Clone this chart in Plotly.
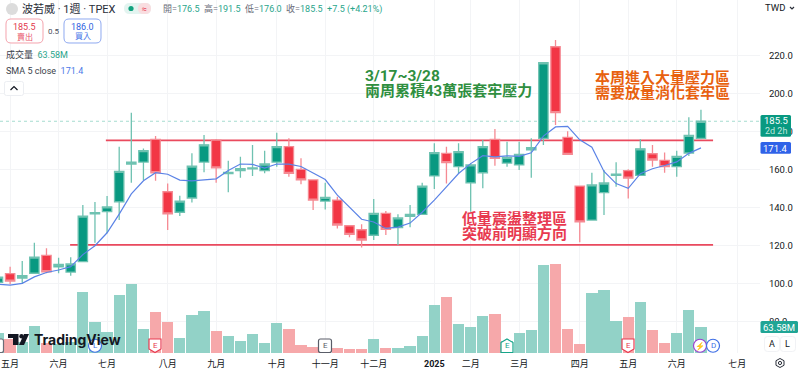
import plotly.graph_objects as go

# ---------- data ----------
weeks = list(range(59))
opens = [100.7,105.3,103,105.5,114.9,108.9,106.1,111.6,136.7,137.9,143.1,163,164,176,148.4,137.6,145.1,164,175.6,157.9,
         159.5,160.5,159.5,164,172.1,160.2,154.6,143.5,144,130.5,128.4,125.5,137,129.5,135.5,136.5,156.7,168.6,161.6,153.1,
         158.4,176,163.5,162.5,170.5,176.5,224.7,177,151.4,133.5,147.9,157,159.5,157,168.4,164.9,161.6,168.8,176.5]
highs = [104.6,108.9,111.9,121.6,118.6,113.7,113.9,141.4,143,146.1,172.1,190,171.2,177.7,152.8,146.3,168.6,178.2,176.1,164.7,
         166.8,173,170,179.5,176.5,166,154.9,153.1,145.8,130.9,131.3,144.6,138.2,136.5,141.4,153.1,173.9,172.1,173.9,163.4,
         175.6,181.4,174.7,174.7,176.5,216.7,228.2,180.3,151.4,158.4,159.8,163.9,160.2,176,173,169,170,187.6,191.5]
lows = [99.8,99.7,99.8,105.5,105.5,105.5,104.2,111.6,121.6,126.5,133.5,153.1,154.6,154.2,128.3,135.6,142.8,158.6,153.1,148.1,
        155.8,156.7,158.1,161.6,156.3,152.3,138.8,139.1,129.1,124.4,119.1,123,125.6,120.4,129.7,136.5,149.8,152.8,158.1,137.9,
        150.2,162.1,161.6,159.8,155.8,173,183.5,168.1,121.8,133.5,136.1,151,144.9,157,161.6,158.4,156.3,167.2,176]
closes = [103.5,101.4,104.2,114,106.3,110.2,110.4,135.6,137.4,140.4,159.1,164,170,158.4,136.7,143.5,161.9,173.1,161,158.6,
          160.5,160.9,163,172.1,158.1,154.6,144,145.4,130.9,126,123,137,128.6,134.6,136.5,151.4,169,163.7,169.5,162.5,
          172.1,166,166.5,168.1,171.6,216.3,190,168.1,132.5,152,153,157.7,155.6,171,165.1,161.6,167,178.1,185.5]
sma5 = [99.7,99.3,100.2,103.6,105.9,107.2,109,115.3,120,126.8,136.6,147.3,154.2,158.4,157.6,154.5,154.1,154.7,155.2,159.6,
        163,162.8,160.8,163,162.9,161.7,158.4,154.8,146.6,140.2,133.9,132.5,129.1,129.8,131.9,137.6,144,151,158,163.2,
        167.4,166.8,167.3,167,168.9,177.7,182.5,182.8,175.7,171.8,159.1,152.7,150.2,157.9,160.5,162.2,164.1,168.6,171.5]
volumes = [48,35,27,66.8,24,22,27,150,77,51,142,169,59.5,101,75,37.5,93.7,102.7,53,41.6,
           30,46.5,24.5,73.4,57.9,20.4,14.7,8,11.4,10.6,10.6,34.2,13,11.4,16.3,41.6,118,137,71.7,64.4,
           91.3,96.2,30,48.9,55.4,214,217.6,58.7,21,146.7,155,79,88,124.7,57,24.5,49.7,104.3,63.58]
volume_up = [1,0,1,1,0,1,1,1,1,1,1,1,1,0,0,1,1,1,0,1,
             1,1,1,1,0,0,0,1,0,0,0,1,0,1,1,1,1,0,1,1,
             1,0,1,1,1,1,0,0,0,1,1,1,0,1,0,0,1,1,1]
month_ticks = [1,5,9,14,18,23,27,31,36,39,43,48,52,56,61]
month_labels = ["五月","六月","七月","八月","九月","十月","十一月","十二月","<b>2025</b>","二月","三月","四月","五月","六月","七月"]
price_ticks = [80,100,120,140,160,180,200,220]
price_labels = ["80.0","100.0","120.0","140.0","160.0","180.0","200.0","220.0"]
resistance = 175.4
support = 120.4
last_price = 185.5

# ---------- geometry ----------
W, H = 800, 369
PW, PH = 760, 353          # plot area in page pixels
STEP, X0 = 12.12, -2.0     # pixels per week, pixel of week 0
PX_PER_PRICE, Y120 = 1.9, 245.7
PX_PER_M = 1 / 2.445

UP, DOWN = "#089981", "#f23645"
UP_W, DOWN_W = "#6fc2b1", "#f58a93"
UP_V, DOWN_V = "#92d2c7", "#f6a8aa"
FONT = "Roboto, 'Noto Sans CJK TC', sans-serif"

def fx(x): return x / PW
def fy(y): return (PH - y) / PH

anns, shapes = [], []
def text(x, y, s, size=11, color="#131722", anchor="left", family=FONT):
    anns.append(dict(x=fx(x), y=fy(y), xref="paper", yref="paper", text=s, showarrow=False,
                     xanchor=anchor, yanchor="middle", align=anchor, borderpad=0, borderwidth=0,
                     font=dict(size=size, color=color, family=family)))
def path(d_pts, fill="rgba(0,0,0,0)", line="rgba(0,0,0,0)", w=1, close=True):
    d = "M " + " L ".join(f"{fx(a):.5f},{fy(b):.5f}" for a, b in d_pts) + (" Z" if close else "")
    shapes.append(dict(type="path", xref="paper", yref="paper", path=d, fillcolor=fill,
                       line=dict(color=line, width=w), layer="above"))
def rrect(x0, y0, x1, y1, r, fill="#ffffff", line="rgba(0,0,0,0)", w=1):
    def P(a, b): return f"{fx(a):.5f},{fy(b):.5f}"
    d = (f"M {P(x0+r,y0)} L {P(x1-r,y0)} Q {P(x1,y0)} {P(x1,y0+r)} L {P(x1,y1-r)} Q {P(x1,y1)} {P(x1-r,y1)} "
         f"L {P(x0+r,y1)} Q {P(x0,y1)} {P(x0,y1-r)} L {P(x0,y0+r)} Q {P(x0,y0)} {P(x0+r,y0)} Z")
    shapes.append(dict(type="path", xref="paper", yref="paper", path=d, fillcolor=fill,
                       line=dict(color=line, width=w), layer="above"))
def circle(cx, cy, r, fill="#ffffff", line="rgba(0,0,0,0)", w=1):
    shapes.append(dict(type="circle", xref="paper", yref="paper", x0=fx(cx-r), x1=fx(cx+r), y0=fy(cy+r), y1=fy(cy-r),
                       fillcolor=fill, line=dict(color=line, width=w), layer="above"))

# ---------- levels (under the candles, above the grid) ----------
def level(y, x0, x1, color, width, dash="solid"):
    shapes.append(dict(type="line", xref="x", yref="y", x0=x0, x1=x1, y0=y, y1=y, layer="between",
                       line=dict(color=color, width=width, dash=dash)))
level(last_price, 0.165, 62.87, "#a5dccf", 1, "dot")
level(resistance, 8.9, 59, "#ea4a5e", 1.8)
level(support, 5.95, 59, "#ea4a5e", 1.8)

# ---------- traces ----------
fig = go.Figure()
fig.add_trace(go.Bar(x=weeks, y=volumes, yaxis="y2", width=0.93,
                     marker=dict(color=[UP_V if u else DOWN_V for u in volume_up], line=dict(width=0)),
                     showlegend=False))
fig.add_trace(go.Candlestick(x=weeks, open=opens, high=highs, low=lows, close=closes, whiskerwidth=0,
                             increasing=dict(line=dict(color=UP_W, width=1.3), fillcolor=UP),
                             decreasing=dict(line=dict(color=DOWN_W, width=1.3), fillcolor=DOWN),
                             showlegend=False))
fig.add_trace(go.Scatter(x=weeks, y=sma5, mode="lines", line=dict(color="#5b83e6", width=1.2), showlegend=False))

# ---------- header ----------
circle(12, 9, 6, fill="#dcdcdc")
text(22, 9, "波若威 · 1週 · TPEX", 11, "#2a2e39")
rrect(124, 3, 151, 14, 5.5, fill="#e3f4f0")
rrect(138, 3, 151, 14, 5.5, fill="#f9dde0")
circle(131, 8.5, 2.6, fill="#12a37f")
text(144, 8.5, "≈", 9, "#e8455a", "center")
g = "#2aa58b"; lab = "#6a6d78"
text(163, 9, (f'<span style="color:{lab}">開=</span>176.5 <span style="color:{lab}"> 高=</span>191.5 '
              f'<span style="color:{lab}"> 低=</span>176.0 <span style="color:{lab}"> 收=</span>185.5 '
              f' +7.5 (+4.21%)'), 9, g)
rrect(6, 19, 43, 43, 5, line="#f4a3ad")
text(24.5, 27, "185.5", 9, "#e2374d", "center")
text(24.5, 37, "賣出", 8, "#e8556a", "center")
text(53.5, 31, "0.5", 8, "#4a4e5a", "center")
rrect(64, 19, 101, 43, 5, line="#8fa9f0")
text(82.5, 27, "186.0", 9, "#2f62e0", "center")
text(82.5, 37, "買入", 8, "#4a78e8", "center")
text(6, 55, f'成交量  <span style="color:{g}">63.58M</span>', 9, "#3a3e4a")
text(6, 71, 'SMA 5 close  <span style="color:#4a78e8">171.4</span>', 9, "#3a3e4a")
rrect(4.5, 81.5, 23.5, 95.5, 2, line="#eceef2")
path([(10.5, 90), (14, 86.5), (17.5, 90)], line="#131722", w=1.2, close=False)

# ---------- commentary ----------
GREEN, ORANGE, RED = "#2f8f3f", "#e8610f", "#e83a50"
bold = lambda s: f"<b>{s}</b>"
text(365, 75.7, bold("3/17~3/28"), 15.5, GREEN)
text(365, 91, bold("兩周累積43萬張套牢壓力"), 15, GREEN)
text(594.5, 77.7, bold("本周進入大量壓力區"), 15, ORANGE)
text(594.5, 92.7, bold("需要放量消化套牢區"), 15, ORANGE)
text(461.5, 219.3, bold("低量震盪整理區"), 15, RED)
text(461.5, 234, bold("突破前明顯方向"), 15, RED)

# ---------- right-side labels ----------
rrect(760.5, 115, 791, 136.7, 1.5, fill=UP)
text(775.7, 121, "185.5", 9.5, "#ffffff", "center")
text(775.7, 131, "2d 2h", 9, "#bfe6dc", "center")
rrect(760.5, 142, 791, 153.7, 1.5, fill="#2f62e8")
text(775.7, 148, "171.4", 9.5, "#ffffff", "center")
rrect(760.5, 321, 798, 333, 1.5, fill="#20a595")
text(779, 327.2, "63.58M", 9.5, "#ffffff", "center")
rrect(764.5, 336.5, 779.5, 351.5, 3, fill="#ffffff", line="#f1f2f5")
text(772, 344, "A", 9, "#131722", "center")
rrect(780.5, 336.5, 795.5, 351.5, 3, fill="#ffffff", line="#f1f2f5")
text(788, 344, "L", 9, "#131722", "center")
path([(780, 358.5), (784, 360.7), (784, 365.3), (780, 367.5), (776, 365.3), (776, 360.7)], line="#2a2e39", w=1)
circle(780, 363, 1.6, line="#2a2e39", w=1)
text(765, 8, "TWD", 9.5, "#131722")
path([(790, 7), (792, 9), (794, 7)], line="#2a2e39", w=1.2, close=False)

# ---------- event badges ----------
def badge(cx, kind, color, label, fs=8):
    y0, y1 = 339, 352.5
    if kind == "down":
        pts = [(cx-6, y0), (cx+6, y0), (cx+6, y1-3.5), (cx, y1), (cx-6, y1-3.5)]
        path(pts, fill="#ffffff", line=color, w=1.2)
    elif kind == "up":
        pts = [(cx, y0), (cx+6, y0+3.5), (cx+6, y1), (cx-6, y1), (cx-6, y0+3.5)]
        path(pts, fill="#ffffff", line=color, w=1.2)
    elif kind == "rect":
        rrect(cx-6.5, y0, cx+6.5, y1, 2, fill="#ffffff", line=color, w=1.2)
    else:
        circle(cx, (y0+y1)/2, 6.5, fill="#ffffff", line=color, w=1.2)
    if label:
        text(cx, (y0+y1)/2, label, fs, color, "center")
badge(-3, "rect", "#6a6d78", "")
badge(95, "circle", "#3f6fe6", "L")
badge(155, "down", "#e83a50", "E")
badge(325, "rect", "#5a5d68", "E")
badge(507, "up", "#17a58a", "E")
badge(628, "down", "#e83a50", "E")
badge(700, "circle", "#9a3fd0", "⚡", 8)
badge(713, "circle", "#3f6fe6", "D")

# ---------- TradingView watermark ----------
path([(8, 334), (18.5, 334), (18.5, 345), (13, 345), (13, 338), (8, 338)], fill="#131722")
circle(21.5, 336.2, 2.2, fill="#131722")
path([(24, 334), (29, 334), (24, 345), (19, 345)], fill="#131722")
text(34, 339.5, "<b>TradingView</b>", 14, "#131722", family="Inter, Roboto, sans-serif")

# ---------- axes ----------
xmin = (0 - X0) / STEP
xmax = (PW - X0) / STEP
ymax = 120 + Y120 / PX_PER_PRICE
ymin = 120 + (Y120 - PH) / PX_PER_PRICE

fig.update_layout(
    width=W, height=H, autosize=False,
    margin=dict(l=0, r=W - PW, t=0, b=H - PH, pad=0),
    paper_bgcolor="#ffffff", plot_bgcolor="#ffffff",
    font=dict(family=FONT, color="#131722"),
    showlegend=False, bargap=0, boxgap=0.23, boxgroupgap=0,
    shapes=shapes, annotations=anns,
    xaxis=dict(range=[xmin, xmax], tickmode="array", tickvals=month_ticks, ticktext=month_labels,
               rangeslider=dict(visible=False), showgrid=True, gridcolor="#f3f4f6", gridwidth=1,
               zeroline=False, showline=False, ticks="outside", ticklen=2, tickcolor="rgba(0,0,0,0)",
               automargin=False, ticklabeloverflow="allow", tickangle=0,
               tickfont=dict(size=9, color="#131722", family=FONT)),
    yaxis=dict(range=[ymin, ymax], side="right", tickmode="array", tickvals=price_ticks, ticktext=price_labels,
               showgrid=True, gridcolor="#f3f4f6", gridwidth=1, zeroline=False, showline=False,
               ticks="outside", ticklen=6, tickcolor="rgba(0,0,0,0)",
               automargin=False, ticklabeloverflow="allow",
               tickfont=dict(size=9.5, color="#131722", family=FONT)),
    yaxis2=dict(range=[0, PH / PX_PER_M], overlaying="y", side="left", visible=False, showgrid=False),
)
fig.write_html("out.html", config=dict(displayModeBar=False),
               post_script="document.body.style.margin='0';document.body.style.padding='0';document.documentElement.style.overflow='hidden';document.body.style.overflow='hidden';")
